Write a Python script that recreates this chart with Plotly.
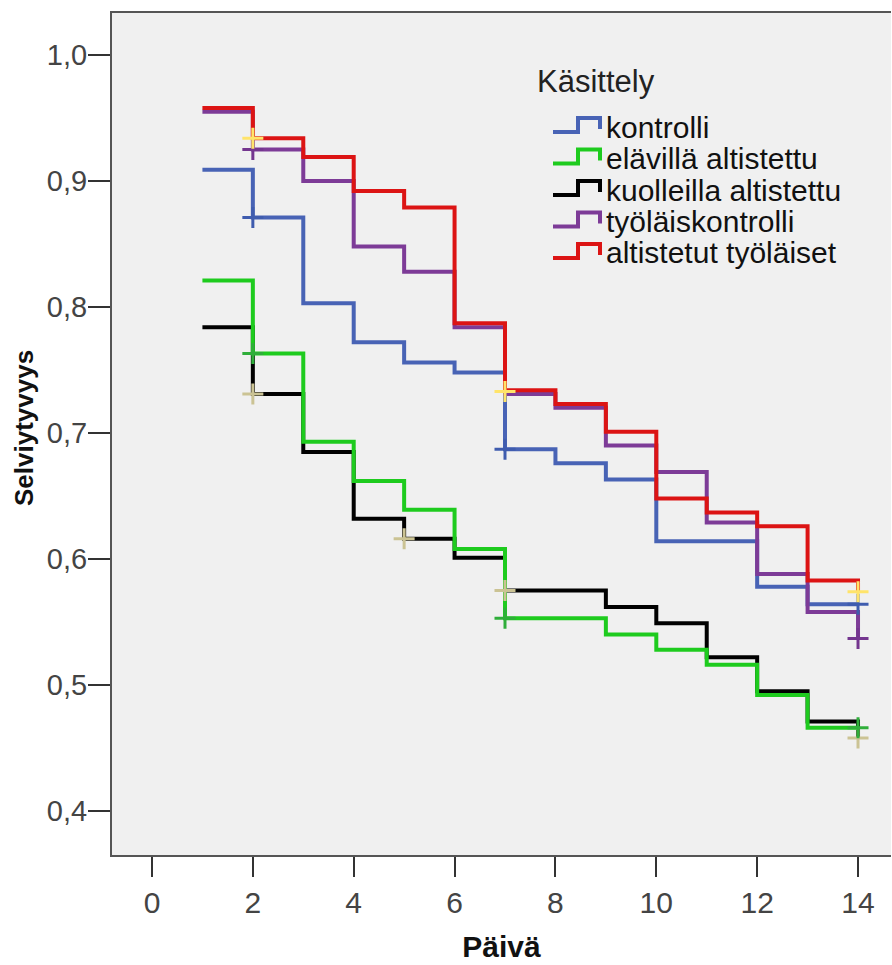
import plotly.graph_objects as go

# ---- data ----
days = [1, 2, 3, 4, 5, 6, 7, 8, 9, 10, 11, 12, 13, 14]

series_names = ["kontrolli", "elävillä altistettu", "kuolleilla altistettu",
                "työläiskontrolli", "altistetut työläiset"]

kontrolli = [0.909, 0.871, 0.803, 0.772, 0.756, 0.748, 0.687, 0.676, 0.663, 0.614, 0.614, 0.578, 0.564, 0.564]
elavilla = [0.821, 0.763, 0.693, 0.662, 0.639, 0.608, 0.553, 0.553, 0.540, 0.528, 0.516, 0.492, 0.466, 0.466]
kuolleilla = [0.784, 0.731, 0.685, 0.632, 0.616, 0.601, 0.575, 0.575, 0.562, 0.549, 0.522, 0.495, 0.471, 0.458]
tyolaiskontrolli = [0.955, 0.925, 0.900, 0.848, 0.828, 0.784, 0.731, 0.720, 0.690, 0.669, 0.629, 0.588, 0.558, 0.537]
altistetut = [0.958, 0.934, 0.919, 0.892, 0.879, 0.787, 0.734, 0.723, 0.701, 0.648, 0.637, 0.626, 0.583, 0.574]

# censored observations
cens_kontrolli_x = [2, 7, 14]
cens_kontrolli_y = [0.871, 0.687, 0.564]
cens_elavilla_x = [2, 7, 14]
cens_elavilla_y = [0.763, 0.553, 0.466]
cens_kuolleilla_x = [2, 5, 7, 14]
cens_kuolleilla_y = [0.731, 0.616, 0.575, 0.458]
cens_tyolais_x = [2, 14]
cens_tyolais_y = [0.925, 0.537]
cens_altistetut_x = [2, 7, 14]
cens_altistetut_y = [0.934, 0.733, 0.574]

x_ticks = [0, 2, 4, 6, 8, 10, 12, 14]
y_ticks = [0.4, 0.5, 0.6, 0.7, 0.8, 0.9, 1.0]

# ---- styles ----
colors = {
    "kontrolli": "#4863b5",
    "elävillä altistettu": "#1ecb1e",
    "kuolleilla altistettu": "#000000",
    "työläiskontrolli": "#7d3b97",
    "altistetut työläiset": "#dc1414",
}
censor_colors = {
    "kontrolli": "#3f5cae",
    "elävillä altistettu": "#2fae3a",
    "kuolleilla altistettu": "#cbc394",
    "työläiskontrolli": "#74368f",
    "altistetut työläiset": "#ffe46a",
}

surv = {
    "kontrolli": kontrolli,
    "elävillä altistettu": elavilla,
    "kuolleilla altistettu": kuolleilla,
    "työläiskontrolli": tyolaiskontrolli,
    "altistetut työläiset": altistetut,
}
cens = {
    "kontrolli": (cens_kontrolli_x, cens_kontrolli_y),
    "elävillä altistettu": (cens_elavilla_x, cens_elavilla_y),
    "kuolleilla altistettu": (cens_kuolleilla_x, cens_kuolleilla_y),
    "työläiskontrolli": (cens_tyolais_x, cens_tyolais_y),
    "altistetut työläiset": (cens_altistetut_x, cens_altistetut_y),
}

FONT = "Liberation Sans, Arial, sans-serif"
fig = go.Figure()

draw_order = ["kontrolli", "kuolleilla altistettu", "elävillä altistettu",
              "työläiskontrolli", "altistetut työläiset"]
for name in draw_order:
    fig.add_trace(go.Scatter(
        x=days, y=surv[name], mode="lines", name=name,
        line=dict(color=colors[name], width=4, shape="hv"),
        showlegend=False, hoverinfo="x+y+name"))

for name in draw_order:
    cx, cy = cens[name]
    fig.add_trace(go.Scatter(
        x=cx, y=cy, mode="markers", name=name + " (sensuroitu)",
        marker=dict(symbol="cross-thin", size=15,
                    line=dict(color=censor_colors[name], width=3)),
        showlegend=False, hoverinfo="x+y+name"))

# ---- layout geometry (pixels) ----
W, H = 892, 965
ML, MR, MT, MB = 112, 1, 13, 110
PW, PH = W - ML - MR, H - MT - MB


def px(xp):
    return (xp - ML) / PW


def py(yp):
    return (H - MB - yp) / PH


# ---- custom legend (step glyphs like SPSS) ----
annotations = [dict(
    x=px(535), y=py(81), xref="paper", yref="paper", xanchor="left", yanchor="middle",
    text="Käsittely", showarrow=False, font=dict(family=FONT, size=31, color="#222"))]
shapes = []
entry_y0 = 127
entry_gap = 31.5
for i, name in enumerate(series_names):
    cy = entry_y0 + i * entry_gap
    annotations.append(dict(
        x=px(604), y=py(cy), xref="paper", yref="paper", xanchor="left", yanchor="middle",
        text=name, showarrow=False, font=dict(family=FONT, size=30, color="#111")))
    low, high = cy + 5, cy - 9
    path = (f"M {px(553)},{py(low)} L {px(578)},{py(low)} L {px(578)},{py(high)} "
            f"L {px(600)},{py(high)} L {px(600)},{py(cy + 2)}")
    shapes.append(dict(type="path", xref="paper", yref="paper", path=path,
                       line=dict(color=colors[name], width=4)))

# y-axis title as annotation (placed left of tick labels)
annotations.append(dict(
    x=px(24), y=py(428), xref="paper", yref="paper", xanchor="center", yanchor="middle",
    text="<b>Selviytyvyys</b>", textangle=-90, showarrow=False,
    font=dict(family=FONT, size=26, color="#111")))

fig.update_layout(
    width=W, height=H,
    margin=dict(l=ML, r=MR, t=MT, b=MB, pad=0),
    paper_bgcolor="white", plot_bgcolor="#f0f0f0",
    separators=", ",
    font=dict(family=FONT, color="#333"),
    showlegend=False,
    annotations=annotations,
    shapes=shapes,
    xaxis=dict(
        range=[-0.793, 14.654], tickvals=x_ticks, ticks="outside", ticklen=20,
        tickwidth=2, tickcolor="#333", showgrid=False, zeroline=False,
        showline=True, linecolor="#555", linewidth=2, mirror=True,
        tickfont=dict(family=FONT, size=30, color="#444"),
        title=dict(text="<b>Päivä</b>", font=dict(family=FONT, size=30, color="#111"),
                   standoff=18)),
    yaxis=dict(
        range=[0.3651, 1.0333], tickvals=y_ticks, tickformat=".1f", ticks="outside",
        ticklen=22, tickwidth=2, tickcolor="#333", showgrid=False, zeroline=False,
        showline=True, linecolor="#555", linewidth=2, mirror=False,
        ticklabelstandoff=-5,
        tickfont=dict(family=FONT, size=29, color="#444")),
)

fig.write_html("out.html")
